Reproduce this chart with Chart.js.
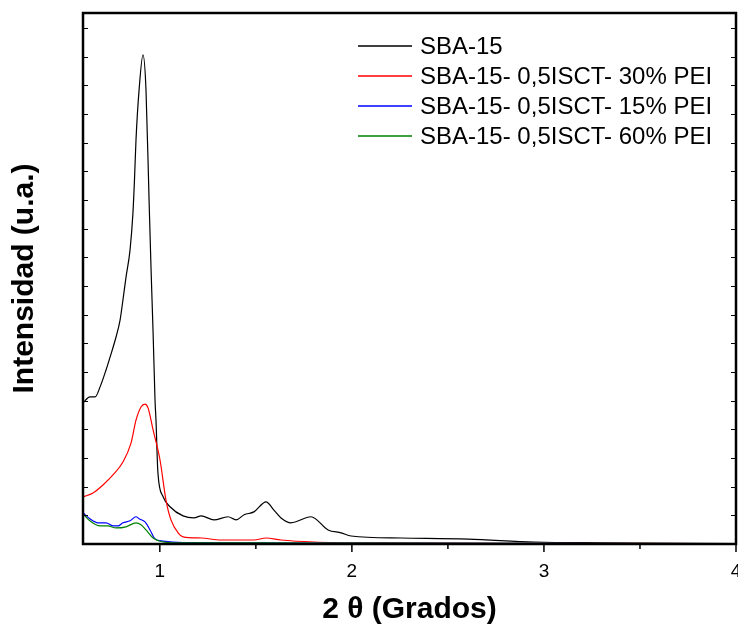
<!DOCTYPE html>
<html>
<head>
<meta charset="utf-8">
<script src="https://cdn.jsdelivr.net/npm/chart.js@4.4.0/dist/chart.umd.min.js"></script>
<style>
  html, body { margin: 0; padding: 0; overflow: hidden; background: #fff; }
  canvas { display: block; }
</style>
</head>
<body>
<canvas id="xrdChart" width="760" height="628"></canvas>
<script>
// Series (2 theta, intensity in arbitrary units)
const sbaX = [0.6, 0.636, 0.663, 0.689, 0.72, 0.741, 0.772, 0.793, 0.808, 0.824, 0.845, 0.86, 0.868, 0.876, 0.892, 0.9125, 0.928, 0.944, 0.954, 0.965, 0.975, 0.98, 0.99, 1.017, 1.053, 1.121, 1.178, 1.215, 1.282, 1.355, 1.397, 1.439, 1.49, 1.553, 1.593, 1.631, 1.683, 1.787, 1.876, 1.944, 1.996, 2.256, 2.605, 2.949, 3.298, 4.0];
const sbaY = [4.92, 5.13, 5.13, 5.48, 6.07, 6.52, 7.22, 7.81, 8.51, 9.31, 10.26, 11.54, 12.7, 14.1, 15.84, 17.06, 15.84, 12.0, 9.66, 7.36, 5.02, 4.32, 2.49, 1.65, 1.3, 0.98, 0.91, 0.98, 0.84, 0.95, 0.84, 1.02, 1.12, 1.47, 1.19, 0.91, 0.74, 0.95, 0.49, 0.39, 0.28, 0.21, 0.17, 0.07, 0.04, 0.01];

const pei30X = [0.6, 0.652, 0.704, 0.756, 0.808, 0.85, 0.876, 0.902, 0.923, 0.939, 0.965, 1.001, 1.032, 1.058, 1.095, 1.121, 1.215, 1.319, 1.49, 1.553, 1.631, 1.803, 2.152, 3.0, 4.0];
const pei30Y = [1.64, 1.78, 2.06, 2.41, 2.86, 3.52, 4.32, 4.78, 4.88, 4.74, 3.98, 2.93, 1.53, 0.84, 0.39, 0.25, 0.21, 0.14, 0.14, 0.21, 0.14, 0.07, 0.04, 0.02, 0.01];

const pei15X = [0.6, 0.636, 0.678, 0.72, 0.756, 0.782, 0.808, 0.845, 0.876, 0.892, 0.923, 0.949, 0.975, 1.017, 1.121, 1.5, 2.0, 3.0, 4.0];
const pei15Y = [1.09, 0.88, 0.74, 0.74, 0.63, 0.63, 0.74, 0.81, 0.95, 0.88, 0.77, 0.49, 0.18, 0.1, 0.05, 0.04, 0.03, 0.02, 0.01];

const pei60X = [0.6, 0.636, 0.689, 0.73, 0.772, 0.824, 0.876, 0.902, 0.928, 0.965, 1.017, 1.121, 1.5, 2.0, 3.0, 4.0];
const pei60Y = [1.05, 0.81, 0.63, 0.63, 0.56, 0.6, 0.74, 0.67, 0.49, 0.21, 0.07, 0.04, 0.04, 0.03, 0.02, 0.01];

const seriesLabels = ['SBA-15', 'SBA-15- 0,5ISCT- 30% PEI', 'SBA-15- 0,5ISCT- 15% PEI', 'SBA-15- 0,5ISCT- 60% PEI'];
const seriesColors = ['#000000', '#ff0000', '#0000ff', '#008000'];

// Axes
const xMajorTicks = [1, 2, 3, 4];
const xMinorTicks = [1.5, 2.5, 3.5];
const yTicks = [1, 2, 3, 4, 5, 6, 7, 8, 9, 10, 11, 12, 13, 14, 15, 16, 17, 18];

const toPoints = (xs, ys) => xs.map((x, i) => ({ x: x, y: ys[i] }));

// Frame, inward/outward tick marks and the in-plot legend
const framePlugin = {
    id: 'frame',
    afterDraw(chart) {
        const { ctx, chartArea: a, scales: { x, y } } = chart;
        ctx.save();
        ctx.strokeStyle = '#000';

        ctx.lineWidth = 1.5;
        ctx.beginPath();
        xMajorTicks.forEach(v => {
            const px = x.getPixelForValue(v);
            ctx.moveTo(px, a.bottom);
            ctx.lineTo(px, a.bottom + 8);
        });
        xMinorTicks.forEach(v => {
            const px = x.getPixelForValue(v);
            ctx.moveTo(px, a.bottom);
            ctx.lineTo(px, a.bottom + 5);
        });
        ctx.stroke();

        ctx.lineWidth = 1;
        ctx.beginPath();
        yTicks.forEach(v => {
            const py = Math.round(y.getPixelForValue(v)) + 0.5;
            ctx.moveTo(a.left, py);
            ctx.lineTo(a.left + 5, py);
            ctx.moveTo(a.right, py);
            ctx.lineTo(a.right - 5, py);
        });
        ctx.stroke();

        ctx.lineWidth = 2.5;
        ctx.strokeRect(a.left, a.top, a.right - a.left, a.bottom - a.top);

        // legend
        ctx.font = '24px "Liberation Sans", Arial, sans-serif';
        ctx.textBaseline = 'middle';
        ctx.fillStyle = '#000';
        seriesLabels.forEach((label, i) => {
            const ly = 46 + i * 30;
            ctx.strokeStyle = seriesColors[i];
            ctx.lineWidth = 1.5;
            ctx.beginPath();
            ctx.moveTo(358, ly);
            ctx.lineTo(412, ly);
            ctx.stroke();
            ctx.fillText(label, 420, ly + 1);
        });
        ctx.restore();
    }
};

const ctx = document.getElementById('xrdChart');

new Chart(ctx, {
    type: 'scatter',
    data: {
        datasets: [
            { label: seriesLabels[0], data: toPoints(sbaX, sbaY), borderColor: seriesColors[0], order: 4 },
            { label: seriesLabels[1], data: toPoints(pei30X, pei30Y), borderColor: seriesColors[1], order: 3 },
            { label: seriesLabels[2], data: toPoints(pei15X, pei15Y), borderColor: seriesColors[2], order: 2 },
            { label: seriesLabels[3], data: toPoints(pei60X, pei60Y), borderColor: seriesColors[3], order: 1 }
        ].map(d => Object.assign(d, {
            showLine: true,
            borderWidth: 1.2,
            pointRadius: 0,
            cubicInterpolationMode: 'monotone'
        }))
    },
    options: {
        responsive: false,
        animation: false,
        layout: {
            padding: { left: 0, top: 13, right: 24, bottom: 0 }
        },
        plugins: {
            legend: { display: false },
            tooltip: { enabled: false }
        },
        scales: {
            x: {
                type: 'linear',
                min: 0.6,
                max: 4,
                afterBuildTicks: scale => {
                    scale.ticks = xMajorTicks.map(v => ({ value: v }));
                },
                afterFit: scale => { scale.height = 84; },
                grid: { display: false, drawTicks: false },
                border: { display: false },
                ticks: {
                    color: '#000',
                    padding: 16,
                    font: { family: '"Liberation Sans", Arial, sans-serif', size: 19 }
                },
                title: {
                    display: true,
                    text: '2 θ (Grados)',
                    color: '#000',
                    padding: { top: 0, bottom: 0 },
                    font: { family: '"Liberation Sans", Arial, sans-serif', size: 30, weight: 'bold' }
                }
            },
            y: {
                min: 0,
                max: 18.52,
                afterFit: scale => { scale.width = 83; },
                grid: { display: false, drawTicks: false },
                border: { display: false },
                ticks: { display: false },
                title: {
                    display: true,
                    text: 'Intensidad (u.a.)',
                    color: '#000',
                    padding: { top: 7, bottom: 0 },
                    font: { family: '"Liberation Sans", Arial, sans-serif', size: 30, weight: 'bold' }
                }
            }
        }
    },
    plugins: [framePlugin]
});
</script>
</body>
</html>
